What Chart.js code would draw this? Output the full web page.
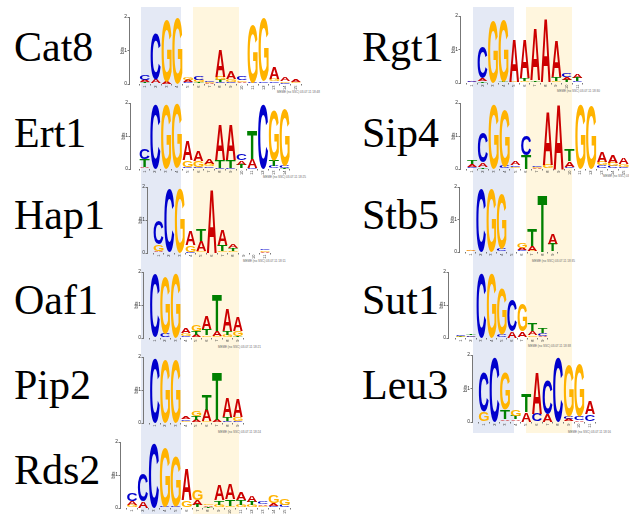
<!DOCTYPE html>
<html>
<head>
<meta charset="utf-8">
<title>Motif logos</title>
<script src="https://cdn.jsdelivr.net/npm/chart.js@4.4.1/dist/chart.umd.min.js"></script>
<style>
  html, body { margin: 0; padding: 0; background: #fff; }
  body { width: 629px; height: 514px; position: relative; overflow: hidden; }
  .band { position: absolute; }
  .blue { background: #e4e9f5; }
  .yellow { background: #fff6de; }
  .name { position: absolute; font-family: "Liberation Serif", "Times New Roman", serif; font-size: 42px; line-height: 42px; color: #000; }
  .stamp { position: absolute; font-family: "Liberation Sans", Arial, sans-serif; font-size: 3px; line-height: 3px; color: #666; white-space: nowrap; }
  canvas { position: absolute; }
</style>
</head>
<body>
<div class="band blue" style="left:141px;top:7px;width:40px;height:507px"></div>
<div class="band yellow" style="left:193px;top:7px;width:46px;height:507px"></div>
<div class="band blue" style="left:473px;top:7px;width:41px;height:426px"></div>
<div class="band yellow" style="left:526px;top:7px;width:46px;height:426px"></div>

<script>
// --------------------- Data (information content in bits, per position) ---------------------
const cat8A = [0.06, 0.12, 0.07, 0.00, 0.06, 0.03, 0.02, 0.80, 0.23, 0.04, 0.02, 0.03, 0.34, 0.12, 0.07];
const cat8C = [0.14, 1.38, 0.00, 0.00, 0.03, 0.13, 0.03, 0.05, 0.04, 0.12, 0.03, 0.05, 0.05, 0.03, 0.01];
const cat8G = [0.03, 0.02, 1.85, 1.96, 0.08, 0.06, 0.02, 0.10, 0.08, 0.04, 1.71, 1.88, 0.08, 0.04, 0.03];
const cat8T = [0.03, 0.00, 0.00, 0.00, 0.02, 0.03, 0.01, 0.06, 0.02, 0.03, 0.00, 0.00, 0.03, 0.01, 0.01];

const ert1A = [0.05, 0.00, 0.00, 0.00, 0.60, 0.33, 0.14, 1.06, 1.04, 0.13, 0.27, 0.00, 0.02, 0.01];
const ert1C = [0.32, 1.97, 0.00, 0.02, 0.05, 0.05, 0.05, 0.03, 0.03, 0.18, 0.03, 1.97, 0.06, 0.06];
const ert1G = [0.02, 0.00, 1.97, 1.95, 0.20, 0.18, 0.08, 0.01, 0.01, 0.03, 0.01, 0.00, 1.52, 1.70];
const ert1T = [0.22, 0.00, 0.00, 0.00, 0.02, 0.02, 0.03, 0.22, 0.22, 0.10, 0.88, 0.00, 0.18, 0.02];

const hap1A = [0.03, 0.00, 0.00, 0.43, 0.30, 1.95, 0.47, 0.10, 0.01, 0.00, 0.03];
const hap1C = [0.70, 1.90, 0.00, 0.03, 0.02, 0.00, 0.02, 0.03, 0.01, 0.01, 0.05];
const hap1G = [0.20, 0.02, 1.96, 0.20, 0.05, 0.00, 0.05, 0.04, 0.00, 0.00, 0.04];
const hap1T = [0.02, 0.00, 0.00, 0.01, 0.34, 0.00, 0.18, 0.08, 0.00, 0.00, 0.01];

const oaf1A = [0.00, 0.00, 0.00, 0.15, 0.08, 0.40, 0.16, 0.65, 0.43];
const oaf1C = [1.93, 0.12, 0.00, 0.05, 0.02, 0.03, 0.02, 0.02, 0.02];
const oaf1G = [0.02, 1.73, 1.95, 0.08, 0.20, 0.05, 0.03, 0.07, 0.14];
const oaf1T = [0.00, 0.00, 0.00, 0.02, 0.10, 0.20, 1.08, 0.13, 0.05];

const pip2A = [0.00, 0.00, 0.00, 0.08, 0.06, 0.35, 0.08, 0.60, 0.55];
const pip2C = [1.95, 0.01, 0.01, 0.05, 0.03, 0.02, 0.02, 0.04, 0.05];
const pip2G = [0.00, 1.92, 1.92, 0.04, 0.17, 0.03, 0.00, 0.02, 0.10];
const pip2T = [0.00, 0.00, 0.00, 0.02, 0.13, 0.48, 1.45, 0.13, 0.02];

const rds2A = [0.12, 0.20, 0.00, 0.02, 0.02, 0.95, 0.15, 0.05, 0.45, 0.45, 0.25, 0.18, 0.05, 0.08, 0.02];
const rds2C = [0.23, 0.83, 1.95, 0.03, 0.03, 0.00, 0.02, 0.01, 0.02, 0.02, 0.03, 0.03, 0.08, 0.05, 0.08];
const rds2G = [0.06, 0.00, 0.00, 1.80, 1.50, 0.23, 0.30, 0.05, 0.08, 0.04, 0.06, 0.06, 0.04, 0.25, 0.18];
const rds2T = [0.02, 0.00, 0.00, 0.00, 0.00, 0.00, 0.07, 0.02, 0.13, 0.20, 0.14, 0.10, 0.02, 0.02, 0.00];

const rgt1A = [0.02, 0.08, 0.00, 0.02, 1.27, 1.14, 1.55, 1.90, 1.10, 0.09, 0.12];
const rgt1C = [0.02, 0.92, 0.00, 0.00, 0.02, 0.02, 0.03, 0.02, 0.02, 0.12, 0.03];
const rgt1G = [0.01, 0.01, 1.85, 1.85, 0.02, 0.04, 0.00, 0.00, 0.04, 0.03, 0.02];
const rgt1T = [0.01, 0.04, 0.00, 0.02, 0.00, 0.08, 0.05, 0.00, 0.12, 0.06, 0.10];

const sip4A = [0.08, 0.13, 0.00, 0.02, 0.10, 0.00, 0.02, 1.60, 1.97, 0.16, 0.00, 0.00, 0.33, 0.23, 0.20];
const sip4C = [0.05, 0.93, 0.00, 0.06, 0.05, 0.60, 0.04, 0.03, 0.00, 0.05, 0.00, 0.00, 0.08, 0.07, 0.05];
const sip4G = [0.02, 0.00, 1.97, 1.70, 0.04, 0.00, 0.03, 0.10, 0.00, 0.02, 1.97, 1.92, 0.10, 0.10, 0.08];
const sip4T = [0.10, 0.07, 0.00, 0.00, 0.02, 0.43, 0.01, 0.00, 0.00, 0.35, 0.00, 0.00, 0.03, 0.02, 0.02];

const stb5A = [0.02, 0.00, 0.00, 0.02, 0.00, 0.06, 0.14, 0.00, 0.33];
const stb5C = [0.01, 1.95, 0.00, 0.07, 0.01, 0.05, 0.02, 0.00, 0.00];
const stb5G = [0.03, 0.00, 1.95, 1.72, 0.00, 0.17, 0.02, 0.00, 0.02];
const stb5T = [0.01, 0.00, 0.00, 0.00, 0.00, 0.02, 0.50, 1.77, 0.24];

const sut1A = [0.02, 0.02, 0.00, 0.00, 0.00, 0.20, 0.17, 0.12, 0.05];
const sut1C = [0.04, 0.04, 1.95, 0.00, 0.10, 0.95, 0.02, 0.03, 0.08];
const sut1G = [0.03, 0.02, 0.00, 1.95, 1.40, 0.00, 0.83, 0.05, 0.02];
const sut1T = [0.02, 0.05, 0.00, 0.00, 0.00, 0.00, 0.00, 0.23, 0.14];

const leu3A = [0.00, 0.00, 0.05, 0.05, 0.30, 1.22, 0.23, 0.00, 0.06, 0.05, 0.40];
const leu3C = [1.17, 1.95, 0.03, 0.03, 0.00, 0.23, 1.02, 1.95, 0.08, 0.10, 0.20];
const leu3G = [0.30, 0.00, 1.10, 0.18, 0.00, 0.00, 0.00, 0.00, 1.53, 1.58, 0.03];
const leu3T = [0.00, 0.00, 0.28, 0.10, 0.53, 0.00, 0.00, 0.00, 0.02, 0.00, 0.00];

const bitTicks = [0, 1, 2];
const letterColors = { A: "#cc0000", C: "#0000cc", G: "#ffb300", T: "#008000" };

// --------------------- Layout of each logo on the page ---------------------
const logos = [
  { name: "Cat8", bits: [cat8A, cat8C, cat8G, cat8T], axisX: 129.3, y2: 16.7, y0: 83.3, p1: 140, s: 11.55, lx: 14, ly: 26, stamp: [277, 91, "MEME (no SSC) 03.07.11 18:48"] },
  { name: "Ert1", bits: [ert1A, ert1C, ert1G, ert1T], axisX: 130, y2: 103.3, y0: 169, p1: 139.3, s: 11.6, lx: 14, ly: 112, stamp: [263, 176, "MEME (no SSC) 03.07.11 18:25"] },
  { name: "Hap1", bits: [hap1A, hap1C, hap1G, hap1T], axisX: 146.7, y2: 187.3, y0: 253.3, p1: 153, s: 11.7, lx: 14, ly: 194, stamp: [243, 260, "MEME (no SSC) 03.07.11 18:11"] },
  { name: "Oaf1", bits: [oaf1A, oaf1C, oaf1G, oaf1T], axisX: 143.3, y2: 272.3, y0: 338.3, p1: 150, s: 11.67, lx: 14, ly: 279, stamp: [218, 346, "MEME (no SSC) 03.07.11 18:21"] },
  { name: "Pip2", bits: [pip2A, pip2C, pip2G, pip2T], axisX: 143.3, y2: 357.3, y0: 423.3, p1: 150, s: 11.67, lx: 14, ly: 364, stamp: [218, 431, "MEME (no SSC) 03.07.11 18:24"] },
  { name: "Rds2", bits: [rds2A, rds2C, rds2G, rds2T], axisX: 120, y2: 442.3, y0: 508.3, p1: 126.7, s: 11.67, lx: 14, ly: 449, stamp: null },
  { name: "Rgt1", bits: [rgt1A, rgt1C, rgt1G, rgt1T], axisX: 460, y2: 16, y0: 82.7, p1: 466.7, s: 11.6, lx: 362, ly: 26, stamp: [557, 90, "MEME (no SSC) 03.07.11 18:30"] },
  { name: "Sip4", bits: [sip4A, sip4C, sip4G, sip4T], axisX: 460, y2: 102.7, y0: 168.3, p1: 466.7, s: 11.6, lx: 362, ly: 112, stamp: [603, 175, "MEME (no SSC) 03.07.11 18:33"] },
  { name: "Stb5", bits: [stb5A, stb5C, stb5G, stb5T], axisX: 459.3, y2: 187.3, y0: 252.7, p1: 466, s: 11.53, lx: 362, ly: 194, stamp: [532, 260, "MEME (no SSC) 03.07.11 18:35"] },
  { name: "Sut1", bits: [sut1A, sut1C, sut1G, sut1T], axisX: 448.3, y2: 271.7, y0: 337.7, p1: 456, s: 11.54, lx: 362, ly: 279, stamp: [528, 345, "MEME (no SSC) 03.07.11 18:38"] },
  { name: "Leu3", bits: [leu3A, leu3C, leu3G, leu3T], axisX: 471.7, y2: 355, y0: 421.7, p1: 478.3, s: 11.67, lx: 362, ly: 364, stamp: [568, 431, "MEME (no SSC) 03.07.11 18:16"] }
];

// --------------------- Letter drawing plugin ---------------------
function drawLetter(ctx, ch, x, top, w, h) {
  ctx.save();
  ctx.font = 'bold 100px "Liberation Sans", Arial, sans-serif';
  const m = ctx.measureText(ch);
  const gw = m.actualBoundingBoxLeft + m.actualBoundingBoxRight;
  const gh = m.actualBoundingBoxAscent + m.actualBoundingBoxDescent;
  ctx.translate(x - w / 2, top);
  ctx.scale(w / gw, h / gh);
  ctx.fillStyle = letterColors[ch];
  ctx.fillText(ch, m.actualBoundingBoxLeft, m.actualBoundingBoxAscent);
  ctx.restore();
}

const letterPlugin = {
  id: "letters",
  afterDatasetsDraw(chart) {
    const ctx = chart.ctx;
    chart.data.datasets.forEach((ds, i) => {
      chart.getDatasetMeta(i).data.forEach((bar, j) => {
        const p = bar.getProps(["x", "y", "base", "width"], true);
        const h = p.base - p.y;
        if (h < 0.25) return;
        drawLetter(ctx, ds.letters[j], p.x, p.y, p.width, h);
      });
    });
  }
};

// --------------------- Build one chart per logo ---------------------
const yAxisW = 9, xAxisH = 8, padTop = 5, padRight = 3;

function buildDatasets(bits) {
  const names = ["A", "C", "G", "T"];
  const n = bits[0].length;
  const sets = [0, 1, 2, 3].map(() => ({ data: [], letters: [], backgroundColor: "rgba(0,0,0,0)", borderWidth: 0 }));
  for (let i = 0; i < n; i++) {
    const col = names.map((ch, k) => [ch, bits[k][i]]).sort((a, b) => a[1] - b[1]);
    col.forEach((entry, r) => {
      sets[r].data.push({ x: i + 1, y: entry[1] });
      sets[r].letters.push(entry[0]);
    });
  }
  return sets;
}

logos.forEach((logo) => {
  const n = logo.bits[0].length;
  const positions = logo.bits[0].map((v, i) => i + 1);

  const label = document.createElement("div");
  label.className = "name";
  label.style.left = logo.lx + "px";
  label.style.top = logo.ly + "px";
  label.textContent = logo.name;
  document.body.appendChild(label);

  if (logo.stamp) {
    const st = document.createElement("div");
    st.className = "stamp";
    st.style.left = logo.stamp[0] + "px";
    st.style.top = logo.stamp[1] + "px";
    st.textContent = logo.stamp[2];
    document.body.appendChild(st);
  }

  const xmin = 1 - (logo.p1 - logo.axisX) / logo.s;
  const W = Math.round(yAxisW + (n + 0.5 - xmin) * logo.s + padRight);
  const H = Math.round(padTop + (logo.y0 - logo.y2) + xAxisH);
  const xmax = xmin + (W - yAxisW - padRight) / logo.s;

  const canvas = document.createElement("canvas");
  canvas.width = W;
  canvas.height = H;
  canvas.style.left = Math.round(logo.axisX - yAxisW) + "px";
  canvas.style.top = Math.round(logo.y2 - padTop) + "px";
  document.body.appendChild(canvas);

  new Chart(canvas, {
    type: "bar",
    data: { datasets: buildDatasets(logo.bits) },
    options: {
      responsive: false,
      animation: false,
      events: [],
      layout: { padding: { top: padTop, right: padRight, left: 0, bottom: 0 } },
      plugins: { legend: { display: false }, tooltip: { enabled: false } },
      datasets: { bar: { barPercentage: 0.93, categoryPercentage: 1 } },
      scales: {
        x: {
          type: "linear",
          stacked: true,
          min: xmin,
          max: xmax,
          afterBuildTicks: (scale) => { scale.ticks = positions.map((v) => ({ value: v })); },
          afterFit: (scale) => { scale.height = xAxisH; },
          ticks: { autoSkip: false, minRotation: 90, maxRotation: 90, padding: 0, color: "#333", font: { size: 4, family: "Liberation Sans" } },
          grid: { drawOnChartArea: false, drawTicks: true, tickLength: 1.5, color: "#777" },
          border: { display: false }
        },
        y: {
          stacked: true,
          min: 0,
          max: 2,
          afterBuildTicks: (scale) => { scale.ticks = bitTicks.map((v) => ({ value: v })); },
          afterFit: (scale) => { scale.width = yAxisW; },
          ticks: { padding: 0.5, color: "#333", font: { size: 5, family: "Liberation Sans" } },
          grid: { drawOnChartArea: false, drawTicks: true, tickLength: 1.5, color: "#777" },
          border: { display: true, color: "#777", width: 1 },
          title: { display: true, text: "bits", padding: 0, color: "#333", font: { size: 4.5, family: "Liberation Sans" } }
        }
      }
    },
    plugins: [letterPlugin]
  });
});
</script>
</body>
</html>
